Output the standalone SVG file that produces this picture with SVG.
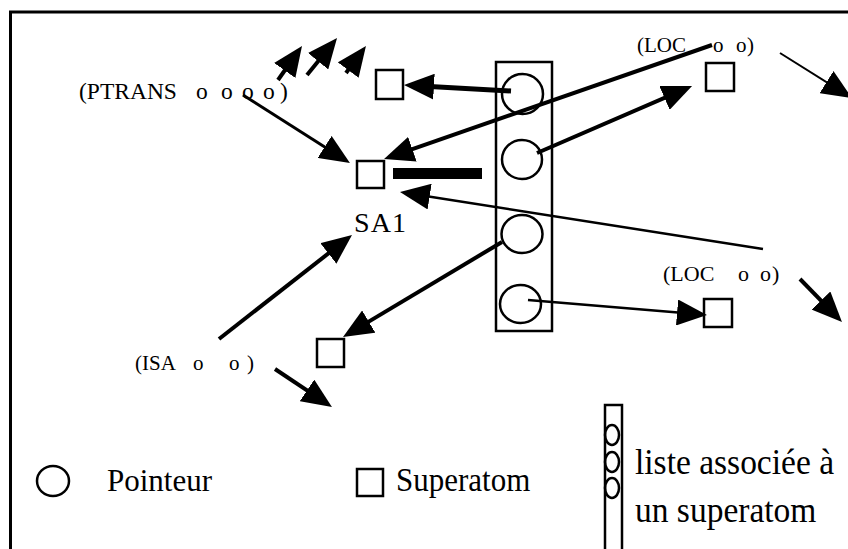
<svg xmlns="http://www.w3.org/2000/svg" width="848" height="549" viewBox="0 0 848 549">
<style>
.t{font-family:"Liberation Serif","Times New Roman",serif;fill:#000}
.box{fill:#fff;stroke:#000;stroke-width:2.5}
.ptr{fill:none;stroke:#000;stroke-width:2.5}
.c{fill:none;stroke:#000;marker-end:url(#ah)}
</style>
<defs>
<marker id="ah" viewBox="0 0 30 26" markerWidth="30" markerHeight="26" refX="22" refY="13" orient="auto" markerUnits="userSpaceOnUse">
<path d="M0,0 L30,13 L0,26 z" fill="#000"/>
</marker>
</defs>
<rect width="848" height="549" fill="#fff"/>
<g id="frame">
<path d="M10.5,549 V12 H848" fill="none" stroke="#000" stroke-width="3"/>
</g>
<g id="liste">
<rect class="box" x="496" y="62" width="56" height="269" fill="none"/>
<ellipse class="ptr" cx="522.5" cy="94" rx="20.5" ry="20"/>
<ellipse class="ptr" cx="522" cy="159.5" rx="20" ry="19.5"/>
<ellipse class="ptr" cx="522" cy="234" rx="20.5" ry="19"/>
<ellipse class="ptr" cx="520.5" cy="304" rx="20.5" ry="19"/>
</g>
<g id="sqA"><rect class="box" x="376" y="70" width="27" height="29"/></g>
<g id="sqSA1"><rect class="box" x="357" y="161" width="27" height="27"/></g>
<g id="sqC"><rect class="box" x="706" y="63" width="28" height="28"/></g>
<g id="sqD"><rect class="box" x="704" y="299" width="28" height="28"/></g>
<g id="sqE"><rect class="box" x="317" y="339" width="27" height="28"/></g>
<g id="bar"><rect x="393" y="168" width="89" height="11" fill="#000"/></g>
<g id="labels">
<text class="t" x="79" y="99" font-size="23.5">(PTRANS</text>
<text class="t" x="196" y="99" font-size="23.5">o</text>
<text class="t" x="221" y="99" font-size="23.5">o</text>
<text class="t" x="242" y="99" font-size="23.5">o</text>
<text class="t" x="263" y="99" font-size="23.5">o</text>
<text class="t" x="280" y="99" font-size="23.5">)</text>
<text class="t" x="637" y="52" font-size="21">(LOC</text>
<text class="t" x="713" y="52" font-size="21">o</text>
<text class="t" x="736" y="52" font-size="21">o</text>
<text class="t" x="747" y="52" font-size="21">)</text>
<text class="t" x="663" y="281" font-size="22">(LOC</text>
<text class="t" x="738" y="281" font-size="22">o</text>
<text class="t" x="760" y="281" font-size="22">o</text>
<text class="t" x="772" y="281" font-size="22">)</text>
<text class="t" x="135" y="370" font-size="21">(ISA</text>
<text class="t" x="193" y="370" font-size="21">o</text>
<text class="t" x="229" y="370" font-size="21">o</text>
<text class="t" x="247" y="370" font-size="21">)</text>
<text class="t" x="354" y="232" font-size="28" textLength="52">SA1</text>
</g>
<g id="connectors">
<path class="c" stroke-width="5" d="M511,91 L412,85.4"/>
<path class="c" stroke-width="4" d="M712,45 L391.6,156.4"/>
<path class="c" stroke-width="4" d="M537,153 L684.7,89.2"/>
<path class="c" stroke-width="2.5" d="M763,249 L407.9,193.2"/>
<path class="c" stroke-width="4" d="M502,242 L349.9,332.9"/>
<path class="c" stroke-width="2.5" d="M528,300 L699,314.3"/>
<path class="c" stroke-width="4" d="M219,339 L345.7,239.9"/>
<path class="c" stroke-width="3" d="M243,95 L343.2,158.7"/>
<path class="c" stroke-width="4" d="M278,80 L297.4,52.5"/>
<path class="c" stroke-width="4" d="M307,75 L332,44.2"/>
<path class="c" stroke-width="4" d="M346,73 L361.2,52.4"/>
<path class="c" stroke-width="2" d="M780,53 L845.2,93.8"/>
<path class="c" stroke-width="4" d="M800,279 L836.4,316.3"/>
<path class="c" stroke-width="4" d="M275,369 L325.3,402.6"/>
</g>
<g id="legende">
<ellipse class="ptr" cx="53" cy="481" rx="16" ry="15"/>
<text class="t" font-size="31" transform="translate(107,491) scale(1,1.05)">Pointeur</text>
<rect class="box" x="357" y="469" width="26" height="27"/>
<text class="t" font-size="31" transform="translate(396,491) scale(1,1.12)">Superatom</text>
<rect class="box" x="605" y="405" width="17" height="150"/>
<ellipse class="ptr" cx="612" cy="435" rx="7" ry="10"/>
<ellipse class="ptr" cx="612" cy="462" rx="7" ry="10"/>
<ellipse class="ptr" cx="612" cy="488" rx="7" ry="10"/>
<text class="t" font-size="33.5" transform="translate(635,474) scale(1,1.08)">liste associée à</text>
<text class="t" font-size="33.5" transform="translate(635,522) scale(1,1.08)">un superatom</text>
</g>
</svg>
